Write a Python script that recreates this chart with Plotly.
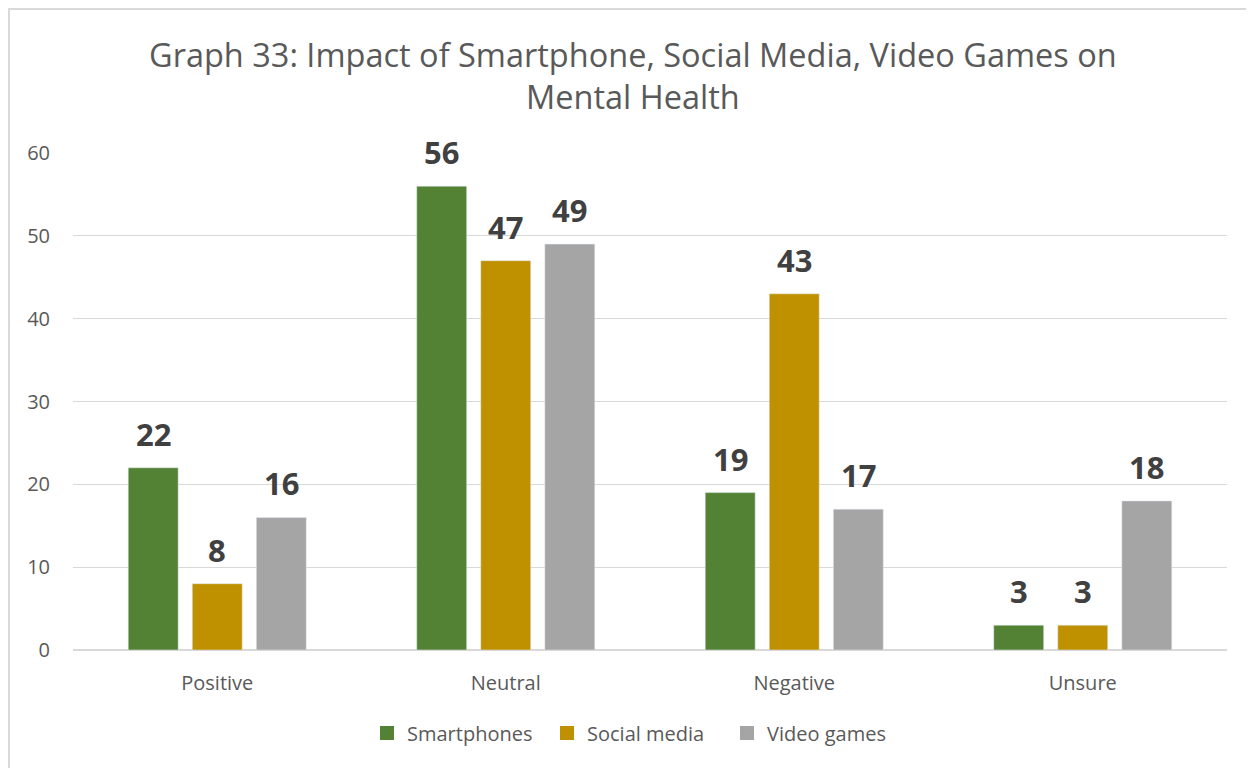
import plotly.graph_objects as go

categories = ["Positive", "Neutral", "Negative", "Unsure"]
smartphones = [22, 56, 19, 3]
social_media = [8, 47, 43, 3]
video_games = [16, 49, 17, 18]
series_names = ["Smartphones", "Social media", "Video games"]
colors = ["#548235", "#BF9000", "#A5A5A5"]

W, H = 1246, 760
L, R, T, B = 65, 27, 145, 118
pw, ph = W - L - R, H - T - B
FONT = "Open Sans"
BARGAP, GROUPGAP = 0.334, 0.22

fig = go.Figure()
series = [smartphones, social_media, video_games]
for name, vals, col in zip(series_names, series, colors):
    fig.add_trace(go.Bar(x=categories, y=vals, name=name, marker_color=col,
                         showlegend=False, legendgroup=name))
# legend entries with square swatches
for name, col in zip(series_names, colors):
    fig.add_trace(go.Scatter(x=[None], y=[None], mode="markers", name=name, legendgroup=name,
                             marker=dict(symbol="square", size=14, color=col), showlegend=True))

# data labels placed at each bar's position (derived from data and group layout)
n = len(series)
slot = (1 - BARGAP) / n
annotations = []
for si, vals in enumerate(series):
    off = (si - (n - 1) / 2) * slot
    for ci, v in enumerate(vals):
        annotations.append(dict(
            x=ci + off, y=v, xref="x", yref="y", text=f"<b>{v}</b>", showarrow=False,
            yanchor="middle", yshift=34,
            font=dict(family=FONT, size=31, color="#404040")))

annotations.append(dict(
    text="Graph 33: Impact of Smartphone, Social Media, Video Games on<br>Mental Health",
    xref="paper", yref="paper", x=(625 - L) / pw, y=1 + (T - 68) / ph,
    xanchor="center", yanchor="middle", showarrow=False,
    font=dict(family=FONT, size=32.5, color="#595959")))

fig.update_layout(
    width=W, height=H,
    margin=dict(l=L, r=R, t=T, b=B),
    paper_bgcolor="white", plot_bgcolor="white",
    barmode="group", bargap=BARGAP, bargroupgap=GROUPGAP,
    font=dict(family=FONT, color="#595959"),
    showlegend=True,
    legend=dict(orientation="h", x=(629 - L) / pw, xanchor="center", y=-(725 - (T + ph)) / ph, yanchor="middle",
                font=dict(family=FONT, size=20, color="#595959"), traceorder="normal", itemwidth=30,
                entrywidth=135),
    xaxis=dict(showline=False, ticks="", tickfont=dict(family=FONT, size=20, color="#595959"),
               ticklabelstandoff=19),
    yaxis=dict(range=[0, 60], dtick=10, showgrid=True, gridcolor="#D9D9D9", gridwidth=1,
               zeroline=True, zerolinecolor="#D9D9D9", zerolinewidth=1.5,
               ticks="", tickfont=dict(family=FONT, size=20, color="#595959"), ticklabelstandoff=22),
    annotations=annotations,
    shapes=[dict(type="rect", xref="paper", yref="paper",
                 x0=(1 - L) / pw, x1=1.2, y0=-0.5, y1=1 + (T - 1) / ph,
                 line=dict(color="#D9D9D9", width=2), fillcolor="rgba(0,0,0,0)", layer="below")],
)

fig.write_html("out.html")
